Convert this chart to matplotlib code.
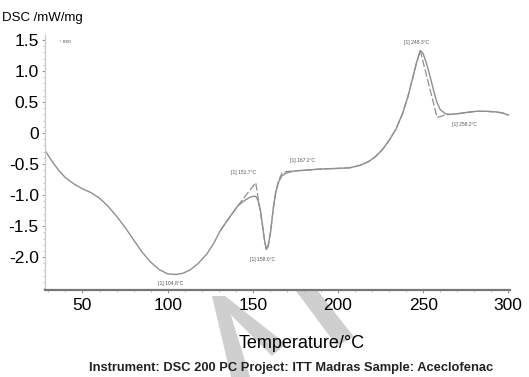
import numpy as np
import matplotlib
matplotlib.use('Agg')
import matplotlib.pyplot as plt
from matplotlib.patches import Polygon
from matplotlib.ticker import MultipleLocator, FuncFormatter

plt.rcParams['font.family'] = ['Liberation Sans', 'DejaVu Sans']

# DSC trace (measured curve)
temp_main = [28, 32, 36, 40, 45, 50, 55, 60, 65, 70, 75, 80, 85, 90, 95, 100, 104.8,
             109, 113, 118, 123, 127, 131, 136, 141, 145, 148, 150, 151.7, 153, 154.5,
             156, 157, 158, 159, 160.5, 162, 163.5, 165, 167, 170, 175, 180, 190, 200,
             207, 213, 218, 222, 226, 230, 234, 238, 241, 244, 246, 248.3, 250, 252,
             254, 256, 258, 260, 263, 266, 270, 275, 281, 287, 293, 297, 300]
dsc_main = [-0.28, -0.45, -0.60, -0.72, -0.82, -0.90, -0.96, -1.05, -1.18, -1.34, -1.52,
            -1.72, -1.92, -2.08, -2.20, -2.27, -2.28,
            -2.26, -2.21, -2.10, -1.95, -1.78, -1.57, -1.37, -1.18, -1.09, -1.04, -1.02, -1.02, -1.08, -1.25,
            -1.55, -1.75, -1.87, -1.82, -1.58, -1.22, -0.95, -0.80, -0.69, -0.64, -0.61, -0.60, -0.58, -0.57,
            -0.56, -0.52, -0.46, -0.38, -0.27, -0.12, 0.06, 0.32, 0.58, 0.90, 1.12, 1.33, 1.28, 1.12,
            0.92, 0.70, 0.50, 0.38, 0.31, 0.30, 0.31, 0.33, 0.35, 0.35, 0.34, 0.32, 0.29]

# tangent construction around the transitions
temp_fit = [131, 141, 151.7, 154, 156, 157, 158, 159, 160.5, 162, 163.5, 165, 167.2, 170,
            175, 180, 190, 200, 207, 213, 218, 222, 226, 230, 234, 238, 241, 244, 246, 248.3,
            258.2, 263, 266, 270, 275, 281, 287, 293, 297, 300]
dsc_fit = [-1.57, -1.18, -0.80, -1.20, -1.55, -1.75, -1.89, -1.82, -1.58, -1.22, -0.95, -0.78, -0.64, -0.62,
           -0.61, -0.60, -0.58, -0.57, -0.56, -0.52, -0.46, -0.38, -0.27, -0.12, 0.06, 0.32, 0.58, 0.90, 1.12, 1.33,
           0.25, 0.29, 0.30, 0.31, 0.33, 0.35, 0.35, 0.34, 0.32, 0.29]

peak_temps = [104.8, 151.7, 158.0, 167.2, 248.3, 258.2]
peak_dsc = [-2.28, -0.80, -1.89, -0.64, 1.33, 0.25]
peak_offsets = [(-5, -9), (-12, 10), (-4, -9), (20, 12), (-4, 8), (27, -7)]

yticks = [1.5, 1.0, 0.5, 0, -0.5, -1.0, -1.5, -2.0]
xticks = [50, 100, 150, 200, 250, 300]

W, H = 529, 377
fig = plt.figure(figsize=(W / 100, H / 100), dpi=100)
ax = fig.add_axes([45 / W, 1 - 290 / H, 465 / W, 255 / H])

line_col = '#8f8f8f'
ax.plot(temp_main, dsc_main, color=line_col, linewidth=1.0)
ax.plot(temp_fit, dsc_fit, color=line_col, linewidth=0.9, linestyle=(0, (6, 2)))

for t, d, off in zip(peak_temps, peak_dsc, peak_offsets):
    ax.annotate('[1] %.1f°C' % t, (t, d), xytext=off, textcoords='offset pixels',
                ha='center', va='center', fontsize=3.6, color='#555555')

ax.set_xlim(28, 301)
ax.set_ylim(-2.53, 1.58)
ax.set_xticks(xticks)
ax.set_yticks(yticks)
ax.xaxis.set_minor_locator(MultipleLocator(10))
ax.yaxis.set_minor_locator(MultipleLocator(0.1))
ax.yaxis.set_major_formatter(FuncFormatter(lambda v, p: '0' if abs(v) < 1e-9 else '%.1f' % v))
ax.tick_params(axis='both', which='major', labelsize=12.5, length=2.5, width=0.8, color='#999999', pad=2)
ax.tick_params(axis='both', which='minor', length=1.5, width=0.6, color='#bbbbbb')
ax.tick_params(axis='x', pad=3)

for s in ['top', 'right']:
    ax.spines[s].set_visible(False)
ax.spines['left'].set_color('#cccccc')
ax.spines['left'].set_linewidth(1.0)
ax.spines['bottom'].set_color('#777777')
ax.spines['bottom'].set_linewidth(1.6)

ax.text(0.03, 0.985, '↑ exo', transform=ax.transAxes, fontsize=3.5, color='#555555', va='top')

fig.text(2 / W, 1 - 18 / H, 'DSC /mW/mg', fontsize=9.5, va='center', ha='left')
fig.text(302 / W, 1 - 344 / H, 'Temperature/°C', fontsize=13, ha='center', va='center')
fig.text(291 / W, 1 - 368 / H, 'Instrument: DSC 200 PC Project: ITT Madras Sample: Aceclofenac',
         fontsize=9.3, fontweight='bold', ha='center', va='center', color='#222222')

# light grey stamp behind the axis labels
stamp = [
    [(212, 296), (225, 296), (250, 377), (231, 377)],
    [(212, 296), (225, 296), (286, 344), (272, 356)],
    [(296, 291), (318, 291), (354, 337), (337, 346)],
]
for shape in stamp:
    pts = [(x / W, 1 - y / H) for x, y in shape]
    fig.patches.append(Polygon(pts, closed=True, transform=fig.transFigure,
                               facecolor='#cfcfcf', edgecolor='none', zorder=-1))

fig.savefig('out.png', dpi=100)
